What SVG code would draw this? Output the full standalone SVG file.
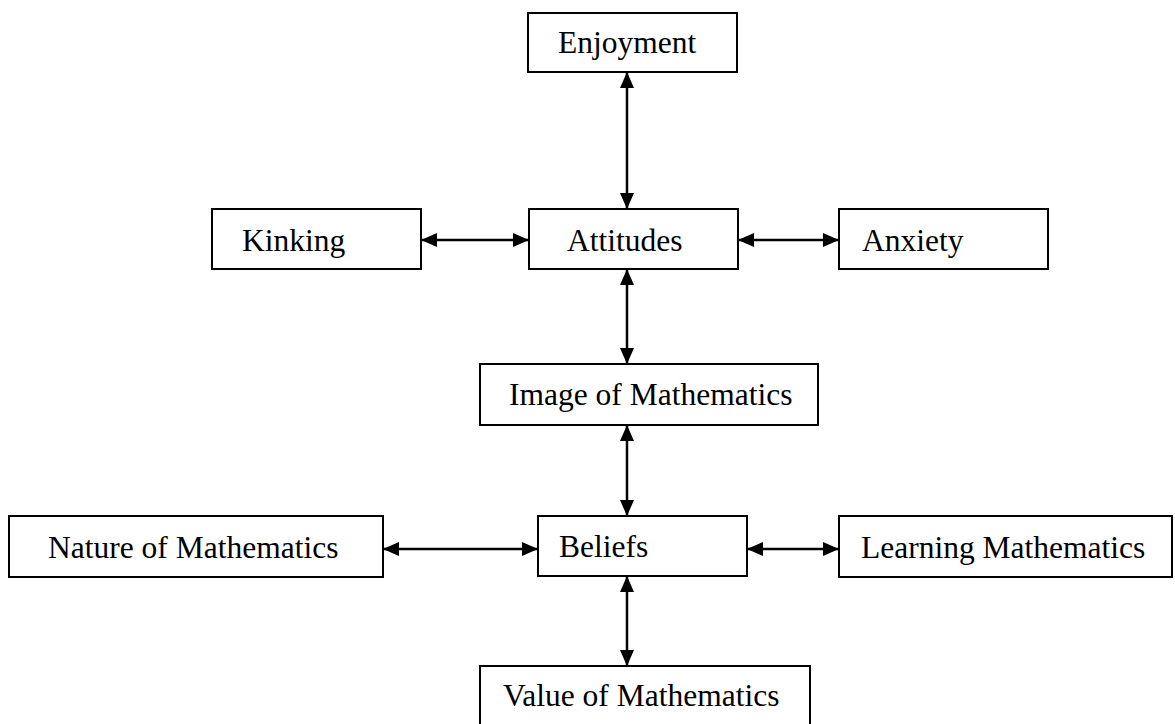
<svg xmlns="http://www.w3.org/2000/svg" width="1175" height="724" viewBox="0 0 1175 724">
  <style>
    .box { fill: #ffffff; stroke: #000000; stroke-width: 2; }
    .lbl { font-family: "Liberation Serif", "Times New Roman", serif; font-size: 31.5px; fill: #000000; }
    .conn { stroke: #000000; stroke-width: 2.5; fill: none; marker-start: url(#ah); marker-end: url(#ah); }
  </style>
  <defs>
    <marker id="ah" markerUnits="userSpaceOnUse" markerWidth="16" markerHeight="14" refX="16" refY="7" orient="auto-start-reverse" viewBox="0 0 16 14">
      <path d="M0,0 L16,7 L0,14 Z" fill="#000000"/>
    </marker>
  </defs>
  <rect width="1175" height="724" fill="#ffffff"/>
  <g id="connectors">
    <line class="conn" x1="627" y1="72" x2="627" y2="209"/>
    <line class="conn" x1="421" y1="240" x2="529" y2="240"/>
    <line class="conn" x1="738" y1="240" x2="839" y2="240"/>
    <line class="conn" x1="627" y1="269" x2="627" y2="364"/>
    <line class="conn" x1="627" y1="425" x2="627" y2="516"/>
    <line class="conn" x1="383" y1="549" x2="538" y2="549"/>
    <line class="conn" x1="747" y1="549" x2="839" y2="549"/>
    <line class="conn" x1="627" y1="576" x2="627" y2="666"/>
  </g>
  <g id="enjoyment">
    <rect class="box" x="528" y="13" width="209" height="59"/>
    <text class="lbl" x="558" y="53">Enjoyment</text>
  </g>
  <g id="kinking">
    <rect class="box" x="212" y="209" width="209" height="60"/>
    <text class="lbl" x="242" y="251">Kinking</text>
  </g>
  <g id="attitudes">
    <rect class="box" x="529" y="209" width="209" height="60"/>
    <text class="lbl" x="567" y="251">Attitudes</text>
  </g>
  <g id="anxiety">
    <rect class="box" x="839" y="209" width="209" height="60"/>
    <text class="lbl" x="862" y="251">Anxiety</text>
  </g>
  <g id="image-of-mathematics">
    <rect class="box" x="480" y="364" width="338" height="61"/>
    <text class="lbl" x="509" y="405">Image of Mathematics</text>
  </g>
  <g id="nature-of-mathematics">
    <rect class="box" x="9" y="516" width="374" height="61"/>
    <text class="lbl" x="48" y="558">Nature of Mathematics</text>
  </g>
  <g id="beliefs">
    <rect class="box" x="538" y="516" width="209" height="60"/>
    <text class="lbl" x="559" y="557">Beliefs</text>
  </g>
  <g id="learning-mathematics">
    <rect class="box" x="839" y="516" width="333" height="61"/>
    <text class="lbl" x="861" y="558">Learning Mathematics</text>
  </g>
  <g id="value-of-mathematics">
    <rect class="box" x="480" y="666" width="330" height="70"/>
    <text class="lbl" x="503" y="706">Value of Mathematics</text>
  </g>
</svg>
